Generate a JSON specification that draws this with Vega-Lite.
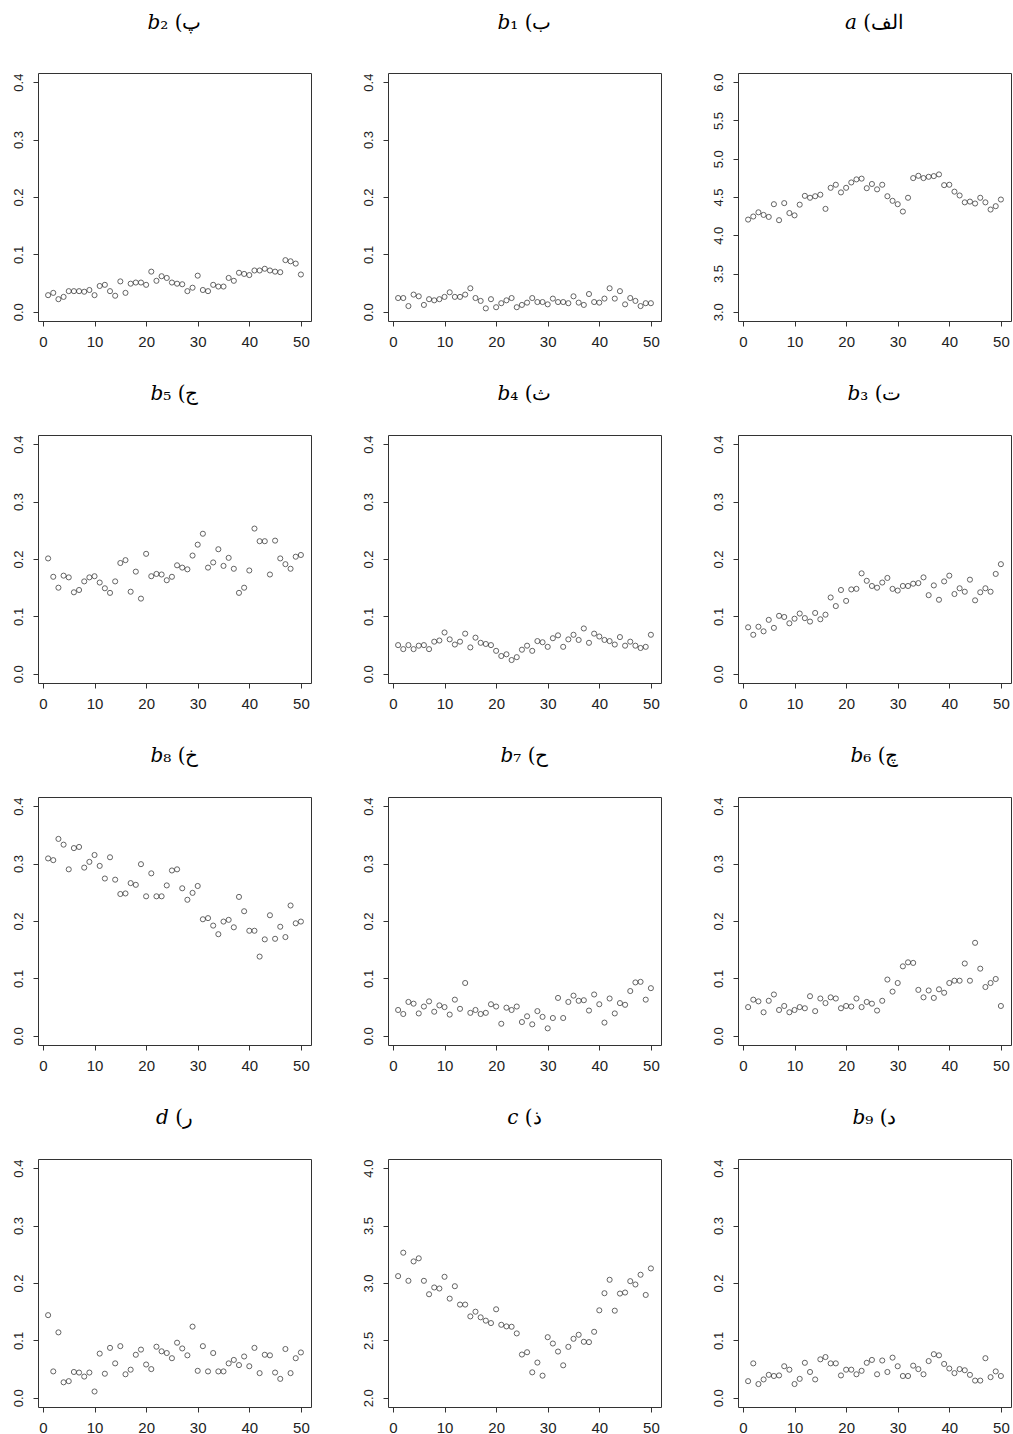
{
"$schema": "https://vega.github.io/schema/vega-lite/v6.json",
"background": "white",
"padding": {"left": 11, "top": 12, "right": 0, "bottom": 0},
"config": {
  "view": {"stroke": "#333", "strokeWidth": 1},
  "axis": {"grid": false, "domain": false, "ticks": true, "tickSize": 5, "tickColor": "#333", "labelColor": "#222", "labelFont": "Liberation Sans", "labelPadding": 8, "labelFlush": false, "labelOverlap": false},
  "axisX": {"labelFontSize": 15},
  "axisY": {"labelFontSize": 13, "labelAngle": -90, "labelAlign": "center", "labelBaseline": "bottom"},
  "title": {"font": "DejaVu Serif", "fontSize": 20, "fontStyle": "normal", "fontWeight": "normal", "color": "black", "offset": 31},
  "point": {"shape": "circle", "filled": false, "size": 26, "strokeWidth": 1, "color": "#222"}
},
"datasets": {
"b2": [{"i":1,"v":0.029},{"i":2,"v":0.033},{"i":3,"v":0.022},{"i":4,"v":0.026},{"i":5,"v":0.036},{"i":6,"v":0.036},{"i":7,"v":0.036},{"i":8,"v":0.035},{"i":9,"v":0.038},{"i":10,"v":0.029},{"i":11,"v":0.045},{"i":12,"v":0.047},{"i":13,"v":0.036},{"i":14,"v":0.028},{"i":15,"v":0.053},{"i":16,"v":0.033},{"i":17,"v":0.049},{"i":18,"v":0.051},{"i":19,"v":0.051},{"i":20,"v":0.047},{"i":21,"v":0.070},{"i":22,"v":0.054},{"i":23,"v":0.062},{"i":24,"v":0.059},{"i":25,"v":0.051},{"i":26,"v":0.049},{"i":27,"v":0.048},{"i":28,"v":0.036},{"i":29,"v":0.042},{"i":30,"v":0.063},{"i":31,"v":0.038},{"i":32,"v":0.036},{"i":33,"v":0.047},{"i":34,"v":0.044},{"i":35,"v":0.044},{"i":36,"v":0.059},{"i":37,"v":0.054},{"i":38,"v":0.068},{"i":39,"v":0.066},{"i":40,"v":0.064},{"i":41,"v":0.072},{"i":42,"v":0.072},{"i":43,"v":0.075},{"i":44,"v":0.072},{"i":45,"v":0.070},{"i":46,"v":0.069},{"i":47,"v":0.090},{"i":48,"v":0.088},{"i":49,"v":0.084},{"i":50,"v":0.065}],
"b1": [{"i":1,"v":0.024},{"i":2,"v":0.024},{"i":3,"v":0.010},{"i":4,"v":0.030},{"i":5,"v":0.027},{"i":6,"v":0.012},{"i":7,"v":0.022},{"i":8,"v":0.020},{"i":9,"v":0.022},{"i":10,"v":0.026},{"i":11,"v":0.034},{"i":12,"v":0.026},{"i":13,"v":0.026},{"i":14,"v":0.030},{"i":15,"v":0.041},{"i":16,"v":0.024},{"i":17,"v":0.019},{"i":18,"v":0.006},{"i":19,"v":0.022},{"i":20,"v":0.008},{"i":21,"v":0.015},{"i":22,"v":0.020},{"i":23,"v":0.024},{"i":24,"v":0.008},{"i":25,"v":0.012},{"i":26,"v":0.016},{"i":27,"v":0.024},{"i":28,"v":0.017},{"i":29,"v":0.017},{"i":30,"v":0.013},{"i":31,"v":0.023},{"i":32,"v":0.017},{"i":33,"v":0.017},{"i":34,"v":0.015},{"i":35,"v":0.027},{"i":36,"v":0.016},{"i":37,"v":0.012},{"i":38,"v":0.031},{"i":39,"v":0.017},{"i":40,"v":0.016},{"i":41,"v":0.023},{"i":42,"v":0.041},{"i":43,"v":0.023},{"i":44,"v":0.036},{"i":45,"v":0.013},{"i":46,"v":0.024},{"i":47,"v":0.019},{"i":48,"v":0.010},{"i":49,"v":0.015},{"i":50,"v":0.015}],
"a": [{"i":1,"v":4.205},{"i":2,"v":4.245},{"i":3,"v":4.30},{"i":4,"v":4.266},{"i":5,"v":4.24},{"i":6,"v":4.406},{"i":7,"v":4.197},{"i":8,"v":4.42},{"i":9,"v":4.29},{"i":10,"v":4.26},{"i":11,"v":4.40},{"i":12,"v":4.515},{"i":13,"v":4.49},{"i":14,"v":4.51},{"i":15,"v":4.53},{"i":16,"v":4.345},{"i":17,"v":4.62},{"i":18,"v":4.66},{"i":19,"v":4.56},{"i":20,"v":4.62},{"i":21,"v":4.69},{"i":22,"v":4.73},{"i":23,"v":4.74},{"i":24,"v":4.615},{"i":25,"v":4.67},{"i":26,"v":4.60},{"i":27,"v":4.66},{"i":28,"v":4.51},{"i":29,"v":4.45},{"i":30,"v":4.406},{"i":31,"v":4.31},{"i":32,"v":4.49},{"i":33,"v":4.747},{"i":34,"v":4.777},{"i":35,"v":4.747},{"i":36,"v":4.764},{"i":37,"v":4.773},{"i":38,"v":4.795},{"i":39,"v":4.655},{"i":40,"v":4.66},{"i":41,"v":4.57},{"i":42,"v":4.52},{"i":43,"v":4.43},{"i":44,"v":4.44},{"i":45,"v":4.415},{"i":46,"v":4.49},{"i":47,"v":4.43},{"i":48,"v":4.336},{"i":49,"v":4.38},{"i":50,"v":4.467}],
"b5": [{"i":1,"v":0.201},{"i":2,"v":0.169},{"i":3,"v":0.150},{"i":4,"v":0.171},{"i":5,"v":0.168},{"i":6,"v":0.142},{"i":7,"v":0.146},{"i":8,"v":0.161},{"i":9,"v":0.168},{"i":10,"v":0.170},{"i":11,"v":0.159},{"i":12,"v":0.149},{"i":13,"v":0.141},{"i":14,"v":0.161},{"i":15,"v":0.193},{"i":16,"v":0.198},{"i":17,"v":0.143},{"i":18,"v":0.178},{"i":19,"v":0.131},{"i":20,"v":0.209},{"i":21,"v":0.170},{"i":22,"v":0.174},{"i":23,"v":0.173},{"i":24,"v":0.163},{"i":25,"v":0.169},{"i":26,"v":0.189},{"i":27,"v":0.185},{"i":28,"v":0.182},{"i":29,"v":0.206},{"i":30,"v":0.225},{"i":31,"v":0.244},{"i":32,"v":0.185},{"i":33,"v":0.194},{"i":34,"v":0.217},{"i":35,"v":0.188},{"i":36,"v":0.202},{"i":37,"v":0.183},{"i":38,"v":0.141},{"i":39,"v":0.150},{"i":40,"v":0.180},{"i":41,"v":0.253},{"i":42,"v":0.231},{"i":43,"v":0.231},{"i":44,"v":0.173},{"i":45,"v":0.232},{"i":46,"v":0.201},{"i":47,"v":0.191},{"i":48,"v":0.183},{"i":49,"v":0.204},{"i":50,"v":0.207}],
"b4": [{"i":1,"v":0.050},{"i":2,"v":0.043},{"i":3,"v":0.050},{"i":4,"v":0.043},{"i":5,"v":0.049},{"i":6,"v":0.050},{"i":7,"v":0.043},{"i":8,"v":0.056},{"i":9,"v":0.058},{"i":10,"v":0.072},{"i":11,"v":0.060},{"i":12,"v":0.051},{"i":13,"v":0.056},{"i":14,"v":0.070},{"i":15,"v":0.046},{"i":16,"v":0.063},{"i":17,"v":0.054},{"i":18,"v":0.052},{"i":19,"v":0.050},{"i":20,"v":0.040},{"i":21,"v":0.031},{"i":22,"v":0.034},{"i":23,"v":0.024},{"i":24,"v":0.029},{"i":25,"v":0.042},{"i":26,"v":0.049},{"i":27,"v":0.040},{"i":28,"v":0.057},{"i":29,"v":0.055},{"i":30,"v":0.047},{"i":31,"v":0.062},{"i":32,"v":0.067},{"i":33,"v":0.047},{"i":34,"v":0.060},{"i":35,"v":0.068},{"i":36,"v":0.059},{"i":37,"v":0.079},{"i":38,"v":0.054},{"i":39,"v":0.070},{"i":40,"v":0.065},{"i":41,"v":0.059},{"i":42,"v":0.057},{"i":43,"v":0.051},{"i":44,"v":0.064},{"i":45,"v":0.049},{"i":46,"v":0.056},{"i":47,"v":0.049},{"i":48,"v":0.045},{"i":49,"v":0.047},{"i":50,"v":0.068}],
"b3": [{"i":1,"v":0.081},{"i":2,"v":0.068},{"i":3,"v":0.082},{"i":4,"v":0.074},{"i":5,"v":0.094},{"i":6,"v":0.080},{"i":7,"v":0.101},{"i":8,"v":0.099},{"i":9,"v":0.088},{"i":10,"v":0.096},{"i":11,"v":0.105},{"i":12,"v":0.097},{"i":13,"v":0.091},{"i":14,"v":0.106},{"i":15,"v":0.095},{"i":16,"v":0.103},{"i":17,"v":0.133},{"i":18,"v":0.118},{"i":19,"v":0.146},{"i":20,"v":0.127},{"i":21,"v":0.147},{"i":22,"v":0.148},{"i":23,"v":0.175},{"i":24,"v":0.162},{"i":25,"v":0.153},{"i":26,"v":0.150},{"i":27,"v":0.159},{"i":28,"v":0.167},{"i":29,"v":0.148},{"i":30,"v":0.145},{"i":31,"v":0.153},{"i":32,"v":0.153},{"i":33,"v":0.157},{"i":34,"v":0.158},{"i":35,"v":0.168},{"i":36,"v":0.137},{"i":37,"v":0.154},{"i":38,"v":0.129},{"i":39,"v":0.161},{"i":40,"v":0.171},{"i":41,"v":0.139},{"i":42,"v":0.149},{"i":43,"v":0.143},{"i":44,"v":0.164},{"i":45,"v":0.128},{"i":46,"v":0.142},{"i":47,"v":0.149},{"i":48,"v":0.143},{"i":49,"v":0.174},{"i":50,"v":0.191}],
"b8": [{"i":1,"v":0.309},{"i":2,"v":0.306},{"i":3,"v":0.343},{"i":4,"v":0.333},{"i":5,"v":0.290},{"i":6,"v":0.327},{"i":7,"v":0.329},{"i":8,"v":0.293},{"i":9,"v":0.303},{"i":10,"v":0.315},{"i":11,"v":0.296},{"i":12,"v":0.274},{"i":13,"v":0.311},{"i":14,"v":0.272},{"i":15,"v":0.247},{"i":16,"v":0.248},{"i":17,"v":0.266},{"i":18,"v":0.263},{"i":19,"v":0.299},{"i":20,"v":0.243},{"i":21,"v":0.283},{"i":22,"v":0.243},{"i":23,"v":0.243},{"i":24,"v":0.262},{"i":25,"v":0.288},{"i":26,"v":0.290},{"i":27,"v":0.257},{"i":28,"v":0.237},{"i":29,"v":0.249},{"i":30,"v":0.261},{"i":31,"v":0.203},{"i":32,"v":0.205},{"i":33,"v":0.192},{"i":34,"v":0.177},{"i":35,"v":0.199},{"i":36,"v":0.202},{"i":37,"v":0.189},{"i":38,"v":0.242},{"i":39,"v":0.217},{"i":40,"v":0.183},{"i":41,"v":0.183},{"i":42,"v":0.138},{"i":43,"v":0.168},{"i":44,"v":0.210},{"i":45,"v":0.169},{"i":46,"v":0.190},{"i":47,"v":0.172},{"i":48,"v":0.227},{"i":49,"v":0.196},{"i":50,"v":0.199}],
"b7": [{"i":1,"v":0.045},{"i":2,"v":0.038},{"i":3,"v":0.059},{"i":4,"v":0.056},{"i":5,"v":0.039},{"i":6,"v":0.051},{"i":7,"v":0.060},{"i":8,"v":0.042},{"i":9,"v":0.053},{"i":10,"v":0.050},{"i":11,"v":0.037},{"i":12,"v":0.063},{"i":13,"v":0.047},{"i":14,"v":0.092},{"i":15,"v":0.040},{"i":16,"v":0.045},{"i":17,"v":0.038},{"i":18,"v":0.040},{"i":19,"v":0.055},{"i":20,"v":0.051},{"i":21,"v":0.021},{"i":22,"v":0.049},{"i":23,"v":0.045},{"i":24,"v":0.051},{"i":25,"v":0.024},{"i":26,"v":0.034},{"i":27,"v":0.020},{"i":28,"v":0.043},{"i":29,"v":0.033},{"i":30,"v":0.013},{"i":31,"v":0.031},{"i":32,"v":0.066},{"i":33,"v":0.031},{"i":34,"v":0.059},{"i":35,"v":0.070},{"i":36,"v":0.061},{"i":37,"v":0.062},{"i":38,"v":0.044},{"i":39,"v":0.072},{"i":40,"v":0.055},{"i":41,"v":0.023},{"i":42,"v":0.065},{"i":43,"v":0.039},{"i":44,"v":0.057},{"i":45,"v":0.054},{"i":46,"v":0.078},{"i":47,"v":0.093},{"i":48,"v":0.094},{"i":49,"v":0.063},{"i":50,"v":0.083}],
"b6": [{"i":1,"v":0.050},{"i":2,"v":0.063},{"i":3,"v":0.060},{"i":4,"v":0.041},{"i":5,"v":0.061},{"i":6,"v":0.072},{"i":7,"v":0.045},{"i":8,"v":0.052},{"i":9,"v":0.041},{"i":10,"v":0.045},{"i":11,"v":0.050},{"i":12,"v":0.048},{"i":13,"v":0.069},{"i":14,"v":0.043},{"i":15,"v":0.065},{"i":16,"v":0.057},{"i":17,"v":0.067},{"i":18,"v":0.065},{"i":19,"v":0.048},{"i":20,"v":0.052},{"i":21,"v":0.051},{"i":22,"v":0.065},{"i":23,"v":0.050},{"i":24,"v":0.059},{"i":25,"v":0.056},{"i":26,"v":0.044},{"i":27,"v":0.061},{"i":28,"v":0.098},{"i":29,"v":0.077},{"i":30,"v":0.092},{"i":31,"v":0.121},{"i":32,"v":0.128},{"i":33,"v":0.127},{"i":34,"v":0.080},{"i":35,"v":0.067},{"i":36,"v":0.079},{"i":37,"v":0.066},{"i":38,"v":0.081},{"i":39,"v":0.075},{"i":40,"v":0.092},{"i":41,"v":0.096},{"i":42,"v":0.096},{"i":43,"v":0.126},{"i":44,"v":0.096},{"i":45,"v":0.162},{"i":46,"v":0.117},{"i":47,"v":0.085},{"i":48,"v":0.092},{"i":49,"v":0.099},{"i":50,"v":0.052}],
"d": [{"i":1,"v":0.144},{"i":2,"v":0.046},{"i":3,"v":0.114},{"i":4,"v":0.027},{"i":5,"v":0.029},{"i":6,"v":0.045},{"i":7,"v":0.044},{"i":8,"v":0.037},{"i":9,"v":0.044},{"i":10,"v":0.011},{"i":11,"v":0.077},{"i":12,"v":0.042},{"i":13,"v":0.087},{"i":14,"v":0.060},{"i":15,"v":0.090},{"i":16,"v":0.041},{"i":17,"v":0.049},{"i":18,"v":0.075},{"i":19,"v":0.084},{"i":20,"v":0.058},{"i":21,"v":0.050},{"i":22,"v":0.089},{"i":23,"v":0.081},{"i":24,"v":0.078},{"i":25,"v":0.069},{"i":26,"v":0.096},{"i":27,"v":0.086},{"i":28,"v":0.074},{"i":29,"v":0.124},{"i":30,"v":0.047},{"i":31,"v":0.090},{"i":32,"v":0.046},{"i":33,"v":0.078},{"i":34,"v":0.046},{"i":35,"v":0.046},{"i":36,"v":0.060},{"i":37,"v":0.066},{"i":38,"v":0.057},{"i":39,"v":0.072},{"i":40,"v":0.055},{"i":41,"v":0.087},{"i":42,"v":0.043},{"i":43,"v":0.075},{"i":44,"v":0.074},{"i":45,"v":0.044},{"i":46,"v":0.033},{"i":47,"v":0.085},{"i":48,"v":0.043},{"i":49,"v":0.069},{"i":50,"v":0.079}],
"c": [{"i":1,"v":3.060},{"i":2,"v":3.264},{"i":3,"v":3.019},{"i":4,"v":3.188},{"i":5,"v":3.215},{"i":6,"v":3.019},{"i":7,"v":2.902},{"i":8,"v":2.961},{"i":9,"v":2.952},{"i":10,"v":3.054},{"i":11,"v":2.864},{"i":12,"v":2.972},{"i":13,"v":2.812},{"i":14,"v":2.812},{"i":15,"v":2.709},{"i":16,"v":2.750},{"i":17,"v":2.701},{"i":18,"v":2.672},{"i":19,"v":2.651},{"i":20,"v":2.771},{"i":21,"v":2.636},{"i":22,"v":2.622},{"i":23,"v":2.619},{"i":24,"v":2.561},{"i":25,"v":2.377},{"i":26,"v":2.397},{"i":27,"v":2.222},{"i":28,"v":2.307},{"i":29,"v":2.193},{"i":30,"v":2.528},{"i":31,"v":2.473},{"i":32,"v":2.403},{"i":33,"v":2.283},{"i":34,"v":2.444},{"i":35,"v":2.514},{"i":36,"v":2.549},{"i":37,"v":2.488},{"i":38,"v":2.485},{"i":39,"v":2.575},{"i":40,"v":2.762},{"i":41,"v":2.911},{"i":42,"v":3.028},{"i":43,"v":2.759},{"i":44,"v":2.908},{"i":45,"v":2.917},{"i":46,"v":3.016},{"i":47,"v":2.987},{"i":48,"v":3.072},{"i":49,"v":2.896},{"i":50,"v":3.127}],
"b9": [{"i":1,"v":0.029},{"i":2,"v":0.060},{"i":3,"v":0.024},{"i":4,"v":0.032},{"i":5,"v":0.040},{"i":6,"v":0.038},{"i":7,"v":0.039},{"i":8,"v":0.055},{"i":9,"v":0.049},{"i":10,"v":0.024},{"i":11,"v":0.033},{"i":12,"v":0.061},{"i":13,"v":0.045},{"i":14,"v":0.032},{"i":15,"v":0.067},{"i":16,"v":0.071},{"i":17,"v":0.060},{"i":18,"v":0.060},{"i":19,"v":0.039},{"i":20,"v":0.049},{"i":21,"v":0.049},{"i":22,"v":0.041},{"i":23,"v":0.047},{"i":24,"v":0.061},{"i":25,"v":0.066},{"i":26,"v":0.041},{"i":27,"v":0.065},{"i":28,"v":0.045},{"i":29,"v":0.070},{"i":30,"v":0.055},{"i":31,"v":0.038},{"i":32,"v":0.038},{"i":33,"v":0.056},{"i":34,"v":0.050},{"i":35,"v":0.041},{"i":36,"v":0.064},{"i":37,"v":0.076},{"i":38,"v":0.074},{"i":39,"v":0.059},{"i":40,"v":0.051},{"i":41,"v":0.043},{"i":42,"v":0.050},{"i":43,"v":0.048},{"i":44,"v":0.040},{"i":45,"v":0.030},{"i":46,"v":0.030},{"i":47,"v":0.069},{"i":48,"v":0.036},{"i":49,"v":0.046},{"i":50,"v":0.038}]
},
"spacing": 33,
"vconcat": [
{"spacing": 49, "hconcat": [
 {"title": {"text": "𝑏₂ (پ", "offset": 40}, "width": 273, "height": 248, "data": {"name": "b2"}, "mark": "point",
  "encoding": {"x": {"field": "i", "type": "quantitative", "scale": {"domain": [-0.96, 51.96], "nice": false, "zero": false}, "axis": {"values": [0,10,20,30,40,50], "title": null}},
   "y": {"field": "v", "type": "quantitative", "scale": {"domain": [-0.016, 0.416], "nice": false, "zero": false}, "axis": {"values": [0,0.1,0.2,0.3,0.4], "format": ".1f", "title": null}}}},
 {"title": {"text": "𝑏₁ (ب", "offset": 40}, "width": 273, "height": 248, "data": {"name": "b1"}, "mark": "point",
  "encoding": {"x": {"field": "i", "type": "quantitative", "scale": {"domain": [-0.96, 51.96], "nice": false, "zero": false}, "axis": {"values": [0,10,20,30,40,50], "title": null}},
   "y": {"field": "v", "type": "quantitative", "scale": {"domain": [-0.016, 0.416], "nice": false, "zero": false}, "axis": {"values": [0,0.1,0.2,0.3,0.4], "format": ".1f", "title": null}}}},
 {"title": {"text": "𝑎 (الف", "offset": 40}, "width": 273, "height": 248, "data": {"name": "a"}, "mark": "point",
  "encoding": {"x": {"field": "i", "type": "quantitative", "scale": {"domain": [-0.96, 51.96], "nice": false, "zero": false}, "axis": {"values": [0,10,20,30,40,50], "title": null}},
   "y": {"field": "v", "type": "quantitative", "scale": {"domain": [2.88, 6.12], "nice": false, "zero": false}, "axis": {"values": [3,3.5,4,4.5,5,5.5,6], "format": ".1f", "title": null}}}}
]},
{"spacing": 49, "hconcat": [
 {"title": "𝑏₅ (ج", "width": 273, "height": 248, "data": {"name": "b5"}, "mark": "point",
  "encoding": {"x": {"field": "i", "type": "quantitative", "scale": {"domain": [-0.96, 51.96], "nice": false, "zero": false}, "axis": {"values": [0,10,20,30,40,50], "title": null}},
   "y": {"field": "v", "type": "quantitative", "scale": {"domain": [-0.016, 0.416], "nice": false, "zero": false}, "axis": {"values": [0,0.1,0.2,0.3,0.4], "format": ".1f", "title": null}}}},
 {"title": "𝑏₄ (ث", "width": 273, "height": 248, "data": {"name": "b4"}, "mark": "point",
  "encoding": {"x": {"field": "i", "type": "quantitative", "scale": {"domain": [-0.96, 51.96], "nice": false, "zero": false}, "axis": {"values": [0,10,20,30,40,50], "title": null}},
   "y": {"field": "v", "type": "quantitative", "scale": {"domain": [-0.016, 0.416], "nice": false, "zero": false}, "axis": {"values": [0,0.1,0.2,0.3,0.4], "format": ".1f", "title": null}}}},
 {"title": "𝑏₃ (ت", "width": 273, "height": 248, "data": {"name": "b3"}, "mark": "point",
  "encoding": {"x": {"field": "i", "type": "quantitative", "scale": {"domain": [-0.96, 51.96], "nice": false, "zero": false}, "axis": {"values": [0,10,20,30,40,50], "title": null}},
   "y": {"field": "v", "type": "quantitative", "scale": {"domain": [-0.016, 0.416], "nice": false, "zero": false}, "axis": {"values": [0,0.1,0.2,0.3,0.4], "format": ".1f", "title": null}}}}
]},
{"spacing": 49, "hconcat": [
 {"title": "𝑏₈ (خ", "width": 273, "height": 248, "data": {"name": "b8"}, "mark": "point",
  "encoding": {"x": {"field": "i", "type": "quantitative", "scale": {"domain": [-0.96, 51.96], "nice": false, "zero": false}, "axis": {"values": [0,10,20,30,40,50], "title": null}},
   "y": {"field": "v", "type": "quantitative", "scale": {"domain": [-0.016, 0.416], "nice": false, "zero": false}, "axis": {"values": [0,0.1,0.2,0.3,0.4], "format": ".1f", "title": null}}}},
 {"title": "𝑏₇ (ح", "width": 273, "height": 248, "data": {"name": "b7"}, "mark": "point",
  "encoding": {"x": {"field": "i", "type": "quantitative", "scale": {"domain": [-0.96, 51.96], "nice": false, "zero": false}, "axis": {"values": [0,10,20,30,40,50], "title": null}},
   "y": {"field": "v", "type": "quantitative", "scale": {"domain": [-0.016, 0.416], "nice": false, "zero": false}, "axis": {"values": [0,0.1,0.2,0.3,0.4], "format": ".1f", "title": null}}}},
 {"title": "𝑏₆ (چ", "width": 273, "height": 248, "data": {"name": "b6"}, "mark": "point",
  "encoding": {"x": {"field": "i", "type": "quantitative", "scale": {"domain": [-0.96, 51.96], "nice": false, "zero": false}, "axis": {"values": [0,10,20,30,40,50], "title": null}},
   "y": {"field": "v", "type": "quantitative", "scale": {"domain": [-0.016, 0.416], "nice": false, "zero": false}, "axis": {"values": [0,0.1,0.2,0.3,0.4], "format": ".1f", "title": null}}}}
]},
{"spacing": 49, "hconcat": [
 {"title": "𝑑 (ر", "width": 273, "height": 248, "data": {"name": "d"}, "mark": "point",
  "encoding": {"x": {"field": "i", "type": "quantitative", "scale": {"domain": [-0.96, 51.96], "nice": false, "zero": false}, "axis": {"values": [0,10,20,30,40,50], "title": null}},
   "y": {"field": "v", "type": "quantitative", "scale": {"domain": [-0.016, 0.416], "nice": false, "zero": false}, "axis": {"values": [0,0.1,0.2,0.3,0.4], "format": ".1f", "title": null}}}},
 {"title": "𝑐 (ذ", "width": 273, "height": 248, "data": {"name": "c"}, "mark": "point",
  "encoding": {"x": {"field": "i", "type": "quantitative", "scale": {"domain": [-0.96, 51.96], "nice": false, "zero": false}, "axis": {"values": [0,10,20,30,40,50], "title": null}},
   "y": {"field": "v", "type": "quantitative", "scale": {"domain": [1.92, 4.08], "nice": false, "zero": false}, "axis": {"values": [2,2.5,3,3.5,4], "format": ".1f", "title": null}}}},
 {"title": "𝑏₉ (د", "width": 273, "height": 248, "data": {"name": "b9"}, "mark": "point",
  "encoding": {"x": {"field": "i", "type": "quantitative", "scale": {"domain": [-0.96, 51.96], "nice": false, "zero": false}, "axis": {"values": [0,10,20,30,40,50], "title": null}},
   "y": {"field": "v", "type": "quantitative", "scale": {"domain": [-0.016, 0.416], "nice": false, "zero": false}, "axis": {"values": [0,0.1,0.2,0.3,0.4], "format": ".1f", "title": null}}}}
]}
]
}
